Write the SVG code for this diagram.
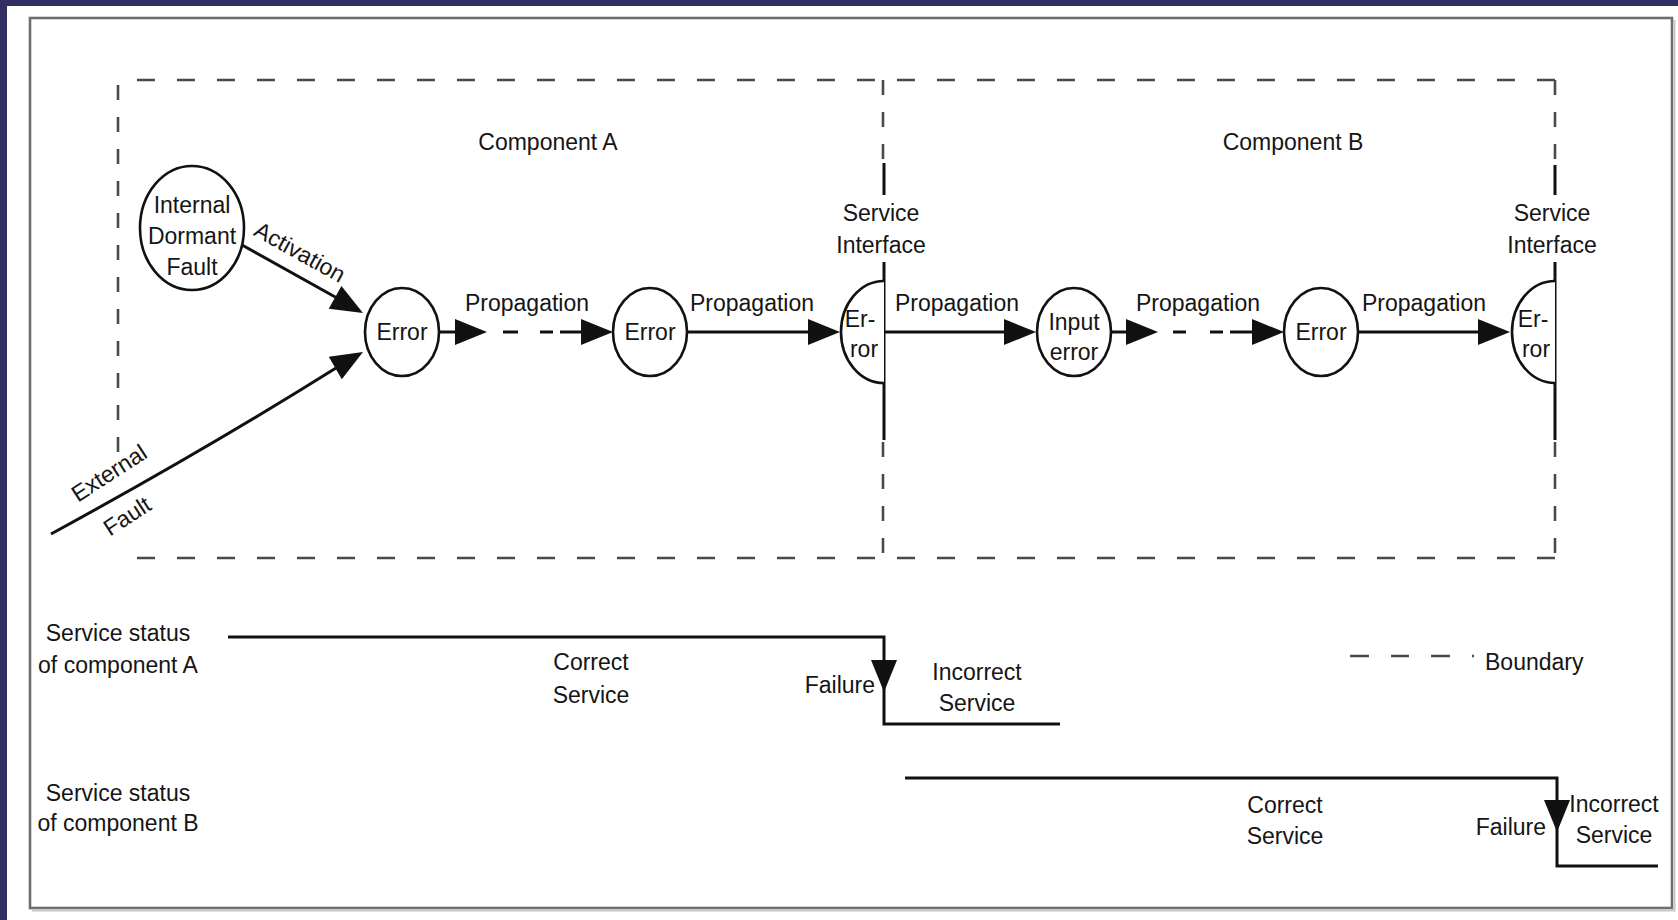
<svg xmlns="http://www.w3.org/2000/svg" xmlns:xlink="http://www.w3.org/1999/xlink" width="1678" height="920" viewBox="0 0 1678 920">
  <style>
    .tx { font-family: "Liberation Sans", Arial, Helvetica, sans-serif; font-size: 23px; fill: #151515; text-anchor: middle; }
    .end { text-anchor: end; }
    .start { text-anchor: start; }
    .ln { stroke: #111; stroke-width: 3; fill: none; }
    .nd { fill: #fff; stroke: #111; stroke-width: 2.6; }
    .bd { stroke: #4a4a4a; stroke-width: 2.6; fill: none; }
    .bdh { stroke-dasharray: 18 22; }
    .bdv { stroke-dasharray: 15 17; }
    .ah { fill: #111; }
  </style>
  <defs>
    <!-- filled arrowhead, tip at origin, pointing along +x -->
    <path id="ah" class="ah" d="M0,0 L-32,-13 L-32,13 Z"/>
  </defs>

  <!-- page background and sheet -->
  <rect x="0" y="0" width="1678" height="920" fill="#322f62"/>
  <rect x="7" y="6" width="1671" height="914" fill="#ffffff"/>
  <rect x="30" y="18" width="1642" height="890" fill="none" stroke="#6e6e6e" stroke-width="2.6"/>
  <path d="M32,910.5 H1674.5 V20" fill="none" stroke="#c8c8c8" stroke-width="2"/>

  <!-- component boundaries -->
  <g id="boundaries">
    <path class="bd bdh" d="M137,80 H1555"/>
    <path class="bd bdh" d="M137,558 H1555"/>
    <path class="bd bdv" d="M118,85 V455"/>
    <path class="bd bdv" d="M883,80 V160 M883,442 V558"/>
    <path class="bd bdv" d="M1555,80 V160 M1555,442 V558"/>
    <text class="tx" x="548" y="150">Component A</text>
    <text class="tx" x="1293" y="150">Component B</text>
  </g>

  <!-- service interfaces -->
  <g id="interface-a">
    <path class="ln" d="M884,163 V195 M884,262 V440"/>
    <text class="tx" x="881" y="221">Service</text>
    <text class="tx" x="881" y="253">Interface</text>
  </g>
  <g id="interface-b">
    <path class="ln" d="M1555,165 V195 M1555,262 V440"/>
    <text class="tx" x="1552" y="221">Service</text>
    <text class="tx" x="1552" y="253">Interface</text>
  </g>

  <!-- connectors -->
  <g id="connectors">
    <!-- activation of the dormant fault -->
    <path class="ln" d="M242,245 L337,298"/>
    <use xlink:href="#ah" transform="translate(363,313) rotate(29.3)"/>
    <text class="tx" x="300" y="260" transform="rotate(29,300,252)">Activation</text>

    <!-- external fault -->
    <path class="ln" d="M51,534 Q205,450 336,368"/>
    <use xlink:href="#ah" transform="translate(363,352) rotate(-30)"/>
    <text class="tx" x="109" y="481" transform="rotate(-33,109,473)">External</text>
    <text class="tx" x="127" y="524" transform="rotate(-33,127,516)">Fault</text>

    <!-- propagation inside component A -->
    <path class="ln" d="M439,332 H457 M503,332 H518 M540,332 H553 M560,332 H583"/>
    <use xlink:href="#ah" transform="translate(487,332)"/>
    <use xlink:href="#ah" transform="translate(613,332)"/>
    <text class="tx" x="527" y="311">Propagation</text>

    <path class="ln" d="M688,332 H810"/>
    <use xlink:href="#ah" transform="translate(840,332)"/>
    <text class="tx" x="752" y="311">Propagation</text>

    <!-- across the service interface -->
    <path class="ln" d="M884,332 H1006"/>
    <use xlink:href="#ah" transform="translate(1036,332)"/>
    <text class="tx" x="957" y="311">Propagation</text>

    <!-- propagation inside component B -->
    <path class="ln" d="M1111,332 H1128 M1173,332 H1186 M1210,332 H1223 M1230,332 H1254"/>
    <use xlink:href="#ah" transform="translate(1158,332)"/>
    <use xlink:href="#ah" transform="translate(1284,332)"/>
    <text class="tx" x="1198" y="311">Propagation</text>

    <path class="ln" d="M1358,332 H1480"/>
    <use xlink:href="#ah" transform="translate(1510,332)"/>
    <text class="tx" x="1424" y="311">Propagation</text>
  </g>

  <!-- nodes -->
  <g id="dormant-fault">
    <ellipse class="nd" cx="192" cy="228" rx="52" ry="62"/>
    <text class="tx" x="192" y="213">Internal</text>
    <text class="tx" x="192" y="244">Dormant</text>
    <text class="tx" x="192" y="275">Fault</text>
  </g>
  <g id="error-a1">
    <ellipse class="nd" cx="402" cy="332" rx="37" ry="44"/>
    <text class="tx" x="402" y="340">Error</text>
  </g>
  <g id="error-a2">
    <ellipse class="nd" cx="650" cy="332" rx="37" ry="44"/>
    <text class="tx" x="650" y="340">Error</text>
  </g>
  <g id="error-a-interface">
    <path class="nd" d="M884,281 A43,51 0 0 0 884,383"/>
    <text class="tx" x="860" y="327">Er-</text>
    <text class="tx" x="864" y="357">ror</text>
  </g>
  <g id="input-error-b">
    <ellipse class="nd" cx="1074" cy="332" rx="37" ry="44"/>
    <text class="tx" x="1074" y="330">Input</text>
    <text class="tx" x="1074" y="360">error</text>
  </g>
  <g id="error-b">
    <ellipse class="nd" cx="1321" cy="332" rx="37" ry="44"/>
    <text class="tx" x="1321" y="340">Error</text>
  </g>
  <g id="error-b-interface">
    <path class="nd" d="M1555,281 A43,51 0 0 0 1555,383"/>
    <text class="tx" x="1533" y="327">Er-</text>
    <text class="tx" x="1536" y="357">ror</text>
  </g>

  <!-- service status of component A -->
  <g id="status-a">
    <text class="tx" x="118" y="641">Service status</text>
    <text class="tx" x="118" y="673">of component A</text>
    <path class="ln" d="M228,637 H884 V724 H1060"/>
    <use xlink:href="#ah" transform="translate(884,692) rotate(90)"/>
    <text class="tx" x="591" y="670">Correct</text>
    <text class="tx" x="591" y="703">Service</text>
    <text class="tx end" x="875" y="693">Failure</text>
    <text class="tx" x="977" y="680">Incorrect</text>
    <text class="tx" x="977" y="711">Service</text>
  </g>

  <!-- service status of component B -->
  <g id="status-b">
    <text class="tx" x="118" y="801">Service status</text>
    <text class="tx" x="118" y="831">of component B</text>
    <path class="ln" d="M905,778 H1557 V866 H1658"/>
    <use xlink:href="#ah" transform="translate(1557,832) rotate(90)"/>
    <text class="tx" x="1285" y="813">Correct</text>
    <text class="tx" x="1285" y="844">Service</text>
    <text class="tx end" x="1546" y="835">Failure</text>
    <text class="tx" x="1614" y="812">Incorrect</text>
    <text class="tx" x="1614" y="843">Service</text>
  </g>

  <!-- legend -->
  <g id="legend">
    <path class="bd" d="M1350,656 H1369 M1391,656 H1409 M1431,656 H1450 M1472,656 H1474"/>
    <text class="tx start" x="1485" y="670">Boundary</text>
  </g>
</svg>
